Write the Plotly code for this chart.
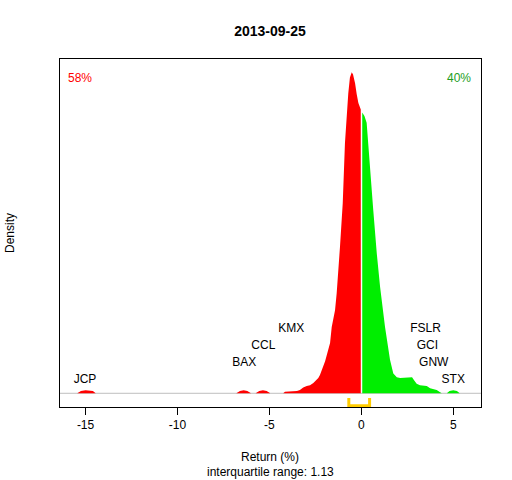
import plotly.graph_objects as go

# ---- data ----
title_text = "2013-09-25"

# density of negative returns (x in %, density)
neg_x = [-15.45, -15.25, -15.0, -14.8, -14.6, -14.45,
         -6.8, -6.6, -6.4, -6.2, -6.0,
         -5.75, -5.55, -5.35, -5.15, -4.95,
         -4.25, -4.15, -3.8, -3.5, -3.34, -3.16, -2.97, -2.79, -2.61, -2.34, -2.25,
         -1.97, -1.70, -1.61, -1.43, -1.34, -1.16, -1.01, -0.89, -0.80, -0.71,
         -0.62, -0.52, -0.45, -0.34, -0.25, -0.16, -0.03]
neg_y = [0.0, 0.003, 0.004, 0.004, 0.003, 0.0,
         0.0, 0.003, 0.004, 0.003, 0.0,
         0.0, 0.003, 0.004, 0.003, 0.0,
         0.0, 0.002, 0.003, 0.003, 0.0045, 0.008, 0.010, 0.011, 0.014, 0.021, 0.025,
         0.044, 0.069, 0.091, 0.114, 0.137, 0.201, 0.261, 0.343, 0.385, 0.411,
         0.433, 0.440, 0.437, 0.425, 0.410, 0.398, 0.389]

# density of positive returns
pos_x = [0.05, 0.17, 0.29, 0.36, 0.42, 0.53, 0.65, 0.84, 1.02, 1.29, 1.56, 1.74,
         1.93, 2.11, 2.47, 2.65, 2.76, 2.87, 3.01, 3.19, 3.56, 3.74, 4.10, 4.37,
         4.65, 4.8, 5.0, 5.2, 5.35]
pos_y = [0.385, 0.380, 0.371, 0.347, 0.320, 0.286, 0.251, 0.192, 0.146, 0.091, 0.046, 0.027,
         0.022, 0.021, 0.021, 0.022, 0.022, 0.018, 0.013, 0.011, 0.010, 0.007, 0.0045, 0.0,
         0.0, 0.003, 0.004, 0.003, 0.0]

# labelled extreme stocks
stock_names = ["JCP", "BAX", "CCL", "KMX", "STX", "GNW", "GCI", "FSLR"]
stock_returns = [-15.03, -6.37, -5.33, -3.81, 5.0, 3.94, 3.59, 3.49]
stock_level = [0, 1, 2, 3, 0, 1, 2, 3]

# quartiles
q1 = -0.68
q3 = 0.45
iqr_text = "interquartile range: 1.13"

pct_negative = "58%"
pct_positive = "40%"

x_ticks = [-15, -10, -5, 0, 5]

# ---- figure ----
FONT = "Liberation Sans, Arial, sans-serif"
x_range = [-16.39, 6.51]
y_range = [-0.0188, 0.4583]
ypx = (y_range[1] - y_range[0]) / 348.0  # data units per pixel

fig = go.Figure()

fig.add_trace(go.Scatter(
    x=neg_x, y=neg_y, mode="lines", fill="tozeroy",
    line=dict(width=0, color="#FF0000"), fillcolor="#FF0000",
    hoverinfo="skip", showlegend=False))
fig.add_trace(go.Scatter(
    x=pos_x, y=pos_y, mode="lines", fill="tozeroy",
    line=dict(width=0, color="#00EE00"), fillcolor="#00EE00",
    hoverinfo="skip", showlegend=False))

# stock labels
label_y = [0.021 - 2 * ypx + lvl * 17 * ypx for lvl in stock_level]
fig.add_trace(go.Scatter(
    x=stock_returns, y=label_y, mode="text", text=stock_names,
    textposition="middle center",
    textfont=dict(family=FONT, size=12, color="#000000"),
    hoverinfo="skip", showlegend=False))

# IQR bracket
yb = y_range[0] + 1.2 * ypx
yt = y_range[0] + 9 * ypx
fig.add_trace(go.Scatter(
    x=[q1, q1, q3, q3], y=[yt, yb, yb, yt], mode="lines",
    line=dict(color="#FFCC00", width=3), cliponaxis=False,
    hoverinfo="skip", showlegend=False))

fig.add_shape(type="line", xref="paper", yref="y", x0=0, x1=1, y0=0, y1=0,
              line=dict(color="#BEBEBE", width=1), layer="below")

fig.update_layout(
    width=512, height=480, autosize=False,
    margin=dict(l=60, r=31, t=59, b=73),
    paper_bgcolor="white", plot_bgcolor="white",
    font=dict(family=FONT, size=12, color="#000000"),
    title=dict(text="<b>" + title_text + "</b>", x=270 / 512, xanchor="center",
               y=1 - 31 / 480, yanchor="middle",
               font=dict(family=FONT, size=14, color="#000000")),
    xaxis=dict(range=x_range, tickvals=x_ticks, ticktext=[str(t) for t in x_ticks],
               showgrid=False, zeroline=False, showline=True, mirror=True,
               linecolor="#000000", linewidth=1, ticks="outside", ticklen=7,
               tickcolor="#000000", tickfont=dict(family=FONT, size=12),
               fixedrange=True),
    yaxis=dict(range=y_range, showticklabels=False, ticks="", showgrid=False,
               zeroline=False, showline=True, mirror=True,
               linecolor="#000000", linewidth=1, fixedrange=True),
    annotations=[
        dict(text="Return (%)", xref="paper", yref="paper",
             x=(270 - 60) / 421, y=-(457 - 407) / 348, showarrow=False,
             xanchor="center", yanchor="middle", font=dict(size=12)),
        dict(text=iqr_text, xref="paper", yref="paper",
             x=(270 - 60) / 421, y=-(472 - 407) / 348, showarrow=False,
             xanchor="center", yanchor="middle", font=dict(size=12)),
        dict(text="Density", xref="paper", yref="paper",
             x=-(60 - 10) / 421, y=(407 - 233) / 348, showarrow=False,
             textangle=-90, xanchor="center", yanchor="middle", font=dict(size=12)),
        dict(text=pct_negative, xref="paper", yref="paper",
             x=(79.5 - 60) / 421, y=(407 - 77.7) / 348, showarrow=False,
             xanchor="center", yanchor="middle", font=dict(size=12, color="#FF0000")),
        dict(text=pct_positive, xref="paper", yref="paper",
             x=(459 - 60) / 421, y=(407 - 77.7) / 348, showarrow=False,
             xanchor="center", yanchor="middle", font=dict(size=12, color="#1E9E1E")),
    ],
)

fig.write_html("out.html", config={"displayModeBar": False},
               post_script="document.body.style.margin='0';document.body.style.padding='0';document.body.style.overflow='hidden';")
